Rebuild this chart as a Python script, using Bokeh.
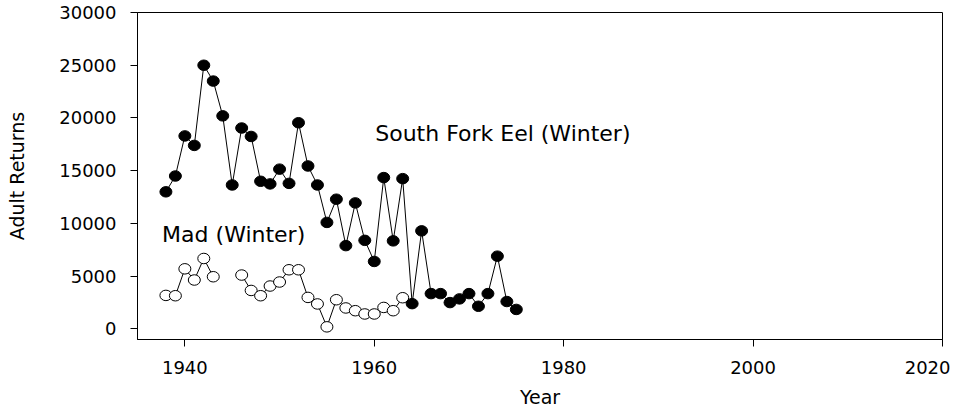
import math
from bokeh.plotting import figure
from bokeh.models import Label, FixedTicker, Range1d
from bokeh.embed import file_html
from bokeh.resources import INLINE

NaN = float("nan")

# South Fork Eel (Winter) adult returns
sfe_years = list(range(1938, 1976))
sfe_values = [13000, 14500, 18300, 17400, 25000, 23500, 20200, 13650, 19050, 18250,
              14000, 13750, 15150, 13800, 19550, 15450, 13650, 10100, 12300, 7900,
              11950, 8400, 6400, 14350, 8350, 14250, 2400, 9300, 3350, 3350,
              2500, 2850, 3350, 2150, 3350, 6900, 2600, 1850]

# Mad (Winter) adult returns (no data 1944-1945)
mad_years = list(range(1938, 1964))
mad_values = [3180, 3150, 5700, 4640, 6680, 4950, NaN, NaN, 5110, 3650,
              3150, 4070, 4450, 5610, 5610, 2990, 2370, 200, 2770, 1990,
              1730, 1420, 1420, 2040, 1730, 2960]

x_ticks = [1940, 1960, 1980, 2000, 2020]
y_ticks = [0, 5000, 10000, 15000, 20000, 25000, 30000]

FONT = "DejaVu Sans"

p = figure(width=950, height=410, output_backend="svg", toolbar_location=None,
           x_range=Range1d(1935, 2020), y_range=Range1d(-1000, 30000),
           min_border_left=137, min_border_right=8, min_border_top=12, min_border_bottom=71)
p.background_fill_color = "white"
p.border_fill_color = "white"
p.outline_line_color = "black"
p.outline_line_width = 1
p.grid.visible = False

for ax in (p.xaxis[0], p.yaxis[0]):
    ax.axis_line_color = "black"
    ax.axis_line_width = 1
    ax.major_tick_line_color = "black"
    ax.major_tick_out = 7
    ax.major_tick_in = 0
    ax.minor_tick_line_color = None
    ax.major_label_text_font = FONT
    ax.major_label_text_font_size = "18px"
    ax.major_label_text_color = "black"
    ax.axis_label_text_font = FONT
    ax.axis_label_text_font_size = "19px"
    ax.axis_label_text_font_style = "normal"
    ax.axis_label_text_color = "black"

p.xaxis.ticker = FixedTicker(ticks=x_ticks)
p.yaxis.ticker = FixedTicker(ticks=y_ticks)
p.xaxis.axis_label = "Year"
p.yaxis.axis_label = "Adult Returns"
p.xaxis.major_label_standoff = 14
p.yaxis.major_label_standoff = 14
p.xaxis.axis_label_standoff = 9
p.yaxis.axis_label_standoff = 28

# Mad series (open markers)
p.line(mad_years, mad_values, line_color="black", line_width=1)
mx = [x for x, v in zip(mad_years, mad_values) if not math.isnan(v)]
mv = [v for v in mad_values if not math.isnan(v)]
p.ellipse(x=mx, y=mv, width=12, height=10.5, width_units="screen", height_units="screen",
          fill_color="white", line_color="black", line_width=1)

# South Fork Eel series (filled markers)
p.line(sfe_years, sfe_values, line_color="black", line_width=1)
p.ellipse(x=sfe_years, y=sfe_values, width=12, height=10.5, width_units="screen",
          height_units="screen", fill_color="black", line_color="black", line_width=1)

p.add_layout(Label(x=1960.1, y=18570, text="South Fork Eel (Winter)", text_font=FONT,
                   text_font_size="22px", text_color="black", text_baseline="middle"))
p.add_layout(Label(x=1937.6, y=8930, text="Mad (Winter)", text_font=FONT,
                   text_font_size="22px", text_color="black", text_baseline="middle"))

open("out.html", "w").write(file_html(p, INLINE))
